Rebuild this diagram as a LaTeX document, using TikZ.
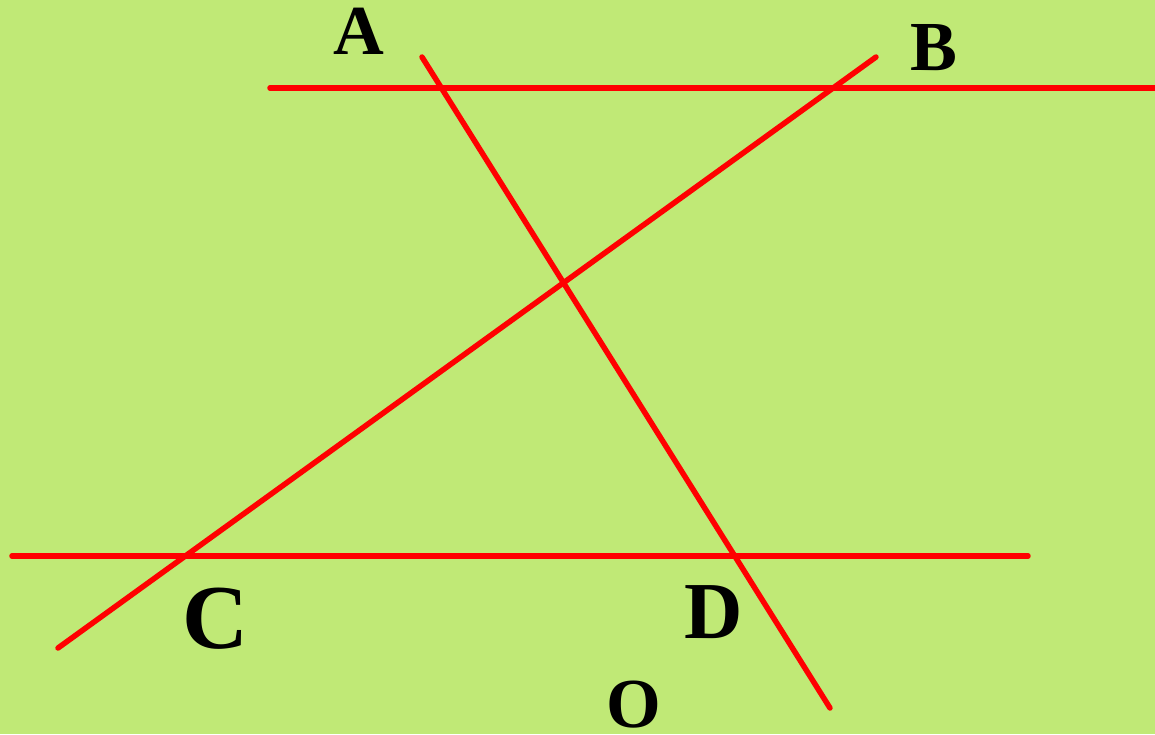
\documentclass[tikz,border=0pt]{standalone}
\usepackage{fontspec}
\setmainfont{Liberation Serif}
\usepackage{tikz}
\definecolor{cBack}{RGB}{192,233,118}
\definecolor{cLine}{RGB}{255,0,0}

\begin{document}
\begin{tikzpicture}[
    x=0.1mm, y=-0.1mm,
    seg/.style={draw=cLine, line width=0.55mm, line cap=round},
    lbl/.style={inner sep=0pt, font=\bfseries\fontsize{20}{22}\selectfont},
    biglbl/.style={inner sep=0pt, font=\bfseries\fontsize{26}{28}\selectfont}
]

\fill[cBack] (0,0) rectangle (1155,734);
\useasboundingbox (0,0) rectangle (1155,734);
\clip (0,0) rectangle (1155,734);

% the two parallel lines
\coordinate (topL) at (270,88);
\coordinate (topR) at (1170,88);
\coordinate (botL) at (12,556);
\coordinate (botR) at (1028,556);

% the two transversals
\coordinate (adTop) at (422,57);
\coordinate (adBot) at (830,708);
\coordinate (bcTop) at (876,57);
\coordinate (bcBot) at (58,648);

\draw[seg] (topL) -- (topR);
\draw[seg] (botL) -- (botR);
\draw[seg] (adTop) -- (adBot);
\draw[seg] (bcTop) -- (bcBot);

\node[lbl] (labA) at (359,31) {A};
\node[lbl] (labB) at (934,48) {B};
\node[biglbl] (labC) at (215,619) {C};
\node[lbl, font=\bfseries\fontsize{23}{25}\selectfont] (labD) at (714,612) {D};
\node[lbl] (labO) at (634,705) {O};

\end{tikzpicture}
\end{document}
